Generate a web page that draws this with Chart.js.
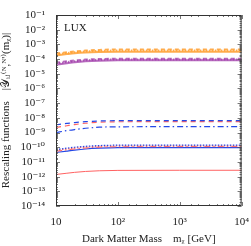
<!DOCTYPE html>
<html>
<head>
<meta charset="utf-8">
<script src="https://cdn.jsdelivr.net/npm/chart.js@4/dist/chart.umd.min.js"></script>
<style>
  body { margin: 0; background: #fff; }
  canvas { display: block; }
</style>
</head>
<body>
<canvas id="lux" width="251" height="246"></canvas>
<script>
const masses = [10, 15, 20, 30, 50, 100, 1000, 10000];

const orangeSolid   = [1.8e-4, 2.2e-4, 2.5e-4, 2.8e-4, 3.0e-4, 3.1e-4, 3.1e-4, 3.1e-4];
const orangeDashed  = [2.4e-4, 2.9e-4, 3.3e-4, 3.8e-4, 4.2e-4, 4.5e-4, 4.5e-4, 4.5e-4];
const orangeDotted  = [2.1e-4, 2.6e-4, 2.9e-4, 3.3e-4, 3.6e-4, 3.8e-4, 3.8e-4, 3.8e-4];
const purpleSolid   = [4.2e-5, 5.2e-5, 6.0e-5, 7.0e-5, 7.8e-5, 8.2e-5, 8.3e-5, 8.3e-5];
const purpleDashed  = [5.7e-5, 7.0e-5, 8.0e-5, 9.2e-5, 1.0e-4, 1.06e-4, 1.07e-4, 1.07e-4];
const purpleDotted  = [5.0e-5, 6.2e-5, 7.1e-5, 8.2e-5, 9.0e-5, 9.4e-5, 9.5e-5, 9.5e-5];
const blueDashed    = [3.4e-9, 4.2e-9, 4.8e-9, 5.5e-9, 6.1e-9, 6.4e-9, 6.5e-9, 6.5e-9];
const redDashed     = [2.2e-9, 2.9e-9, 3.5e-9, 4.3e-9, 5.0e-9, 5.4e-9, 5.5e-9, 5.5e-9];
const blueDashDot   = [1.0e-9, 1.35e-9, 1.6e-9, 1.95e-9, 2.3e-9, 2.45e-9, 2.5e-9, 2.5e-9];
const blueDotted    = [7.0e-11, 8.7e-11, 1.0e-10, 1.15e-10, 1.3e-10, 1.38e-10, 1.4e-10, 1.4e-10];
const redDotted     = [6.0e-11, 7.6e-11, 8.8e-11, 1.02e-10, 1.15e-10, 1.22e-10, 1.25e-10, 1.25e-10];
const redDashDot    = [5.3e-11, 6.6e-11, 7.6e-11, 8.8e-11, 1.0e-10, 1.07e-10, 1.1e-10, 1.1e-10];
const blueSolid     = [4.4e-11, 5.5e-11, 6.4e-11, 7.6e-11, 8.6e-11, 9.3e-11, 9.5e-11, 9.5e-11];
const redSolid      = [1.4e-12, 1.7e-12, 1.95e-12, 2.25e-12, 2.5e-12, 2.65e-12, 2.7e-12, 2.7e-12];

const xTickLabels = {10: '10', 100: '10²', 1000: '10³', 10000: '10⁴'};
const yTickLabels = {
    '-1': '10⁻¹', '-2': '10⁻²', '-3': '10⁻³', '-4': '10⁻⁴', '-5': '10⁻⁵',
    '-6': '10⁻⁶', '-7': '10⁻⁷', '-8': '10⁻⁸', '-9': '10⁻⁹', '-10': '10⁻¹⁰',
    '-11': '10⁻¹¹', '-12': '10⁻¹²', '-13': '10⁻¹³', '-14': '10⁻¹⁴'
};

const serif = "'Liberation Serif', 'DejaVu Serif', serif";
const ORANGE = 'rgba(255,160,50,0.85)';
const PURPLE = 'rgba(160,60,170,0.75)';
const BLUE = '#2448e6';
const RED = '#ff6262';

function line(values, color, width, dash) {
    return {
        data: values.map((v, i) => ({x: masses[i], y: v})),
        borderColor: color,
        borderWidth: width,
        borderDash: dash,
        pointRadius: 0,
        fill: false,
        cubicInterpolationMode: 'monotone'
    };
}

function isDecade(v) {
    const l = Math.log10(v);
    return Math.abs(l - Math.round(l)) < 1e-6;
}

const frameTicks = {
    id: 'frameTicks',
    afterDraw(chart) {
        const c = chart.ctx;
        const a = chart.chartArea;
        c.save();
        c.strokeStyle = '#555';
        c.lineWidth = 0.8;
        chart.scales.y.ticks.forEach(t => {
            const y = Math.round(chart.scales.y.getPixelForValue(t.value)) + 0.5;
            const len = isDecade(t.value) ? 4 : 2;
            c.beginPath();
            c.moveTo(a.left, y); c.lineTo(a.left + len, y);
            c.moveTo(a.right, y); c.lineTo(a.right - len, y);
            c.stroke();
        });
        chart.scales.x.ticks.forEach(t => {
            const x = Math.round(chart.scales.x.getPixelForValue(t.value)) + 0.5;
            const len = isDecade(t.value) ? 4 : 2;
            c.beginPath();
            c.moveTo(x, a.bottom); c.lineTo(x, a.bottom - len);
            c.moveTo(x, a.top); c.lineTo(x, a.top + len);
            c.stroke();
        });
        c.strokeStyle = '#333';
        c.lineWidth = 1;
        c.strokeRect(a.left + 0.5, a.top + 0.5, a.right - a.left - 1, a.bottom - a.top - 1);
        c.fillStyle = '#222';
        c.font = '11px ' + serif;
        c.fillText('LUX', a.left + 8, a.top + 16);
        c.restore();
    }
};

new Chart(document.getElementById('lux'), {
    type: 'line',
    data: {
        datasets: [
            line(orangeDashed, ORANGE, 2, [4, 3]),
            line(orangeDotted, ORANGE, 2, [1.5, 1.5]),
            line(orangeSolid, ORANGE, 2, []),
            line(purpleDashed, PURPLE, 2, [4, 3]),
            line(purpleDotted, PURPLE, 2, [1.5, 1.5]),
            line(purpleSolid, PURPLE, 2, []),
            line(blueDashed, BLUE, 1.2, [5, 4]),
            line(redDashed, RED, 1.2, [5, 4]),
            line(blueDashDot, BLUE, 1.2, [6, 3, 1.5, 3]),
            line(blueDotted, BLUE, 1.2, [1.5, 1.5]),
            line(redDotted, RED, 1.2, [1.5, 1.5]),
            line(redDashDot, RED, 1, [6, 3, 1.5, 3]),
            line(blueSolid, BLUE, 1.2, []),
            line(redSolid, RED, 1, [])
        ]
    },
    options: {
        responsive: false,
        animation: false,
        layout: {padding: {top: 15, right: 6, left: 0, bottom: 0}},
        plugins: {legend: {display: false}, tooltip: {enabled: false}},
        scales: {
            x: {
                type: 'logarithmic',
                min: 10,
                max: 10000,
                grid: {display: false},
                border: {display: false},
                ticks: {
                    autoSkip: false,
                    maxRotation: 0,
                    padding: 2,
                    color: '#222',
                    font: {family: serif, size: 11},
                    callback: v => xTickLabels[v] || ''
                },
                title: {
                    display: true,
                    text: 'Dark Matter Mass    mᵪ [GeV]',
                    color: '#222',
                    font: {family: serif, size: 11},
                    padding: {top: 3, bottom: 0}
                },
                afterFit: s => { s.height = 40; }
            },
            y: {
                type: 'logarithmic',
                min: 1e-14,
                max: 1e-1,
                grid: {display: false},
                border: {display: false},
                ticks: {
                    autoSkip: false,
                    padding: 3,
                    color: '#222',
                    font: {family: serif, size: 11},
                    callback: v => isDecade(v) ? yTickLabels[Math.round(Math.log10(v))] : ''
                },
                title: {
                    display: true,
                    text: "Rescaling functions    |𝒴ᵢⱼ⁽ᴺ,ᴺ'⁾(mᵪ)|",
                    color: '#222',
                    font: {family: serif, size: 11},
                    padding: {top: 0, bottom: 2}
                },
                afterFit: s => { s.width = 56; }
            }
        }
    },
    plugins: [frameTicks]
});
</script>
</body>
</html>
